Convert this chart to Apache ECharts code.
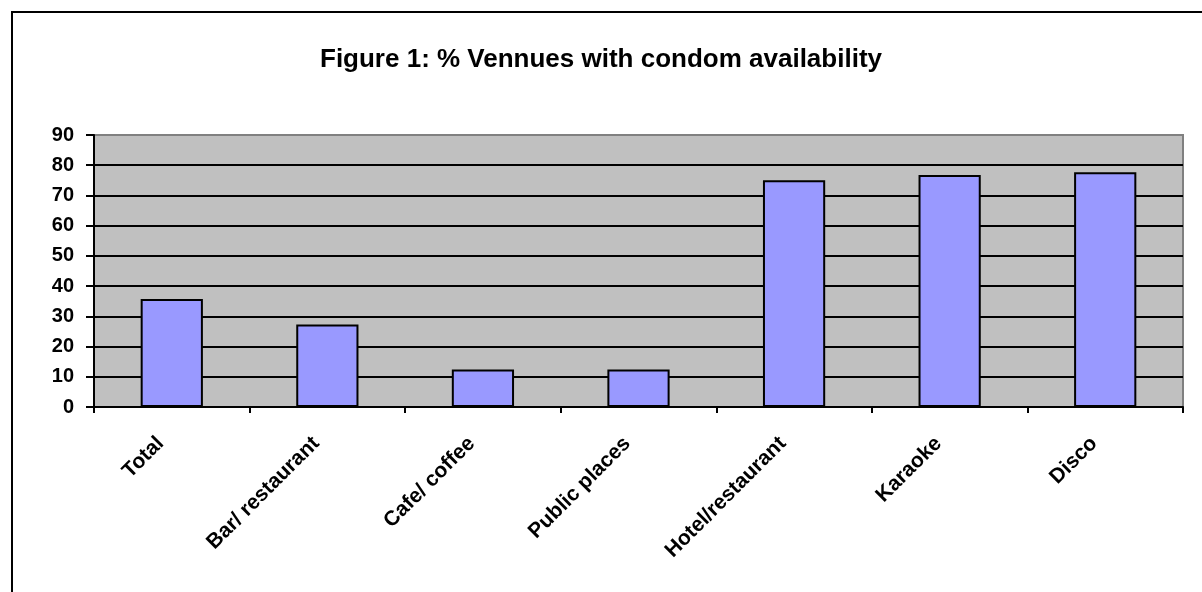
<!DOCTYPE html>
<html>
<head>
<meta charset="utf-8">
<script src="https://cdn.jsdelivr.net/npm/echarts@6/dist/echarts.min.js"></script>
<style>
  html, body { margin: 0; padding: 0; background: #fff; }
  #chart { width: 1202px; height: 592px; }
</style>
</head>
<body>
<div id="chart"></div>
<script>
const categories = ['Total', 'Bar/ restaurant', 'Cafe/ coffee', 'Public places', 'Hotel/restaurant', 'Karaoke', 'Disco'];
const values = [35.7, 27.3, 12.4, 12.4, 75, 76.8, 77.7];
const yTicks = [0, 10, 20, 30, 40, 50, 60, 70, 80, 90];

const chart = echarts.init(document.getElementById('chart'));
const font = '"Liberation Sans", Arial, sans-serif';

// grey top edge of the plot, black for the rest
const splitColors = yTicks.map((t, i) => (i === yTicks.length - 1 ? '#808080' : '#000'));

chart.setOption({
  backgroundColor: '#fff',
  animation: false,
  title: {
    text: 'Figure 1: % Vennues with condom availability',
    left: 'center',
    top: 42,
    textStyle: { fontFamily: font, fontSize: 26, fontWeight: 'bold', color: '#000' }
  },
  graphic: [{
    type: 'rect',
    shape: { x: 12, y: 12, width: 1400, height: 800 },
    style: { fill: 'none', stroke: '#000', lineWidth: 2 },
    silent: true
  }],
  grid: {
    left: 94, right: 19, top: 135, bottom: 185,
    show: true,
    backgroundColor: '#C0C0C0',
    borderColor: '#808080',
    borderWidth: 2
  },
  xAxis: {
    type: 'category',
    data: categories,
    boundaryGap: true,
    axisLine: { lineStyle: { color: '#000', width: 2 } },
    axisTick: { show: true, length: 6, lineStyle: { color: '#000', width: 2 } },
    axisLabel: {
      rotate: 45,
      margin: 22,
      padding: [0, 16, 0, 0],
      interval: 0,
      color: '#000',
      fontFamily: font,
      fontSize: 21,
      fontWeight: 'bold'
    }
  },
  yAxis: {
    type: 'value',
    min: 0,
    max: 90,
    interval: 10,
    axisLine: { show: true, lineStyle: { color: '#000', width: 2 } },
    axisTick: { show: true, length: 8, lineStyle: { color: '#000', width: 2 } },
    axisLabel: {
      margin: 20,
      color: '#000',
      fontFamily: font,
      fontSize: 20,
      fontWeight: 'bold'
    },
    splitLine: { show: true, lineStyle: { color: splitColors, width: 2 } }
  },
  series: [{
    type: 'bar',
    data: values,
    barCategoryGap: '60%',
    itemStyle: { color: '#9999FF', borderColor: '#000', borderWidth: 2 }
  }]
});
window.addEventListener('resize', () => chart.resize());
</script>
</body>
</html>
